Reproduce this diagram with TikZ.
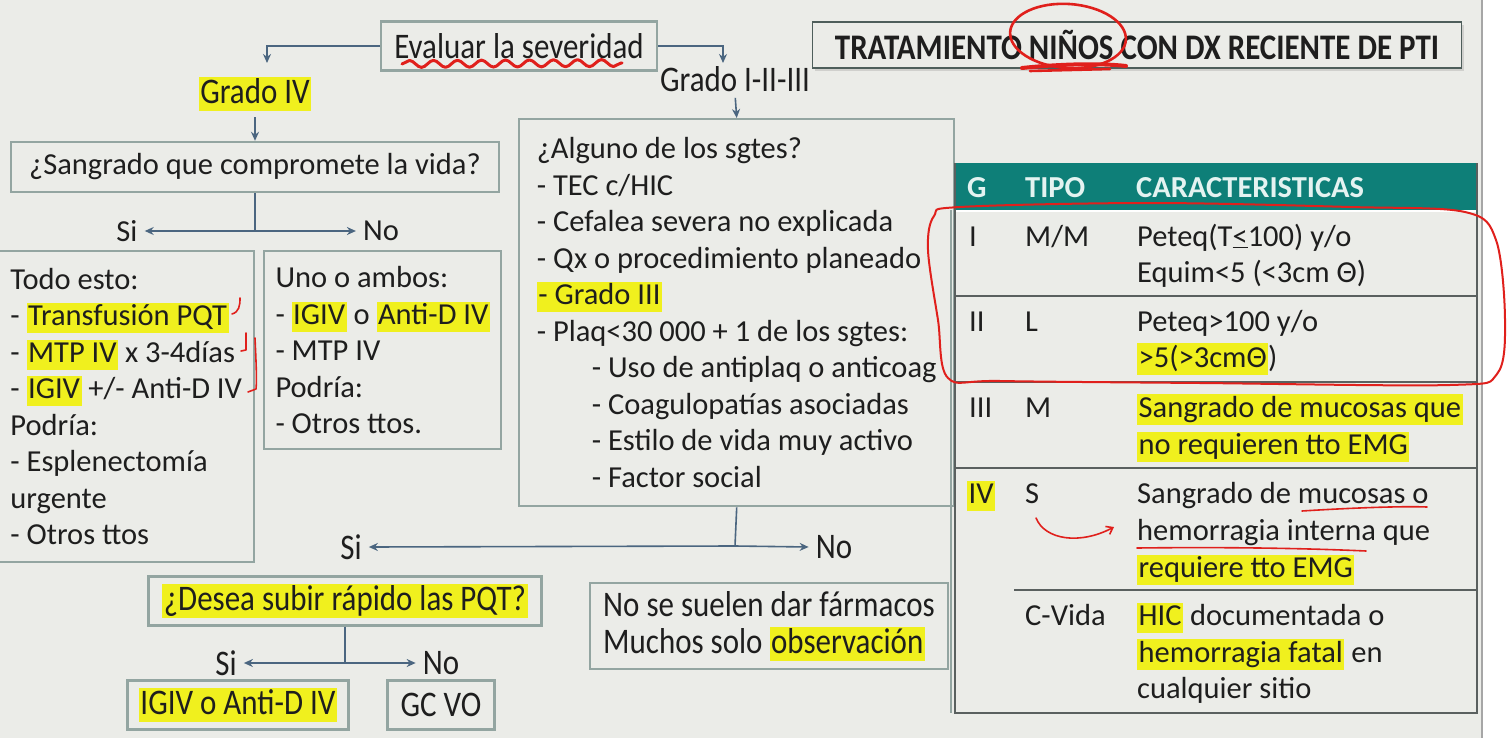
\documentclass[tikz,border=0pt]{standalone}
\usepackage{fontspec}
\setmainfont{Carlito}
\newfontfamily\condf[FakeStretch=0.86]{Carlito}
\usetikzlibrary{arrows.meta,decorations.pathmorphing,shadows}
\definecolor{bg}{HTML}{EBECE8}
\definecolor{boxc}{HTML}{93A5A1}
\definecolor{tboxc}{HTML}{4E5E5B}
\definecolor{arrc}{HTML}{4B6680}
\definecolor{txt}{HTML}{1E1E1E}
\definecolor{hly}{HTML}{F0F01E}
\definecolor{tealh}{HTML}{0E7F78}
\definecolor{thc}{HTML}{E4F3F1}
\definecolor{tline}{HTML}{5A605F}
\definecolor{redm}{HTML}{E0201C}
\newcommand\hl[1]{{\setlength{\fboxsep}{1.5pt}\colorbox{hly}{\vrule height 21pt depth 6pt width 0pt #1}}}
\newcommand\bodyfont{\fontsize{30.5}{36.5}\selectfont}
\newcommand\condfont{\condf\fontsize{36}{36.5}\selectfont}
\tikzset{
  box/.style={draw=boxc, line width=2.4pt, text=txt, inner sep=0pt},
  tbox/.style={draw=tboxc, line width=1.8pt, text=txt, inner sep=0pt, fill=bg,
    drop shadow={shadow xshift=2pt, shadow yshift=-3pt, opacity=0.25}},
  conn/.style={draw=arrc, line width=1.6pt, -{Stealth[length=9pt,width=8pt]}},
  link/.style={draw=arrc, line width=1.6pt},
  lbl/.style={text=txt, font=\bodyfont, inner xsep=7pt, inner ysep=2pt},
  clbl/.style={text=txt, font=\condfont, inner xsep=7pt, inner ysep=2pt},
  tt/.style={text=txt, font=\bodyfont, anchor=base west, inner sep=0pt},
  th/.style={text=thc, font=\bodyfont\bfseries, anchor=base west, inner sep=0pt},
  tl/.style={draw=tline, line width=2pt},
  redmark/.style={draw=redm, line width=2.2pt, line cap=round, line join=round}
}
\begin{document}
\begin{tikzpicture}[x=1pt,y=-1pt]
\useasboundingbox (0,0) rectangle (1509,738);
\fill[white] (0,0) rectangle (1509,738);
\fill[bg] (0,0) rectangle (1482,738);
\draw[draw=gray!70, line width=1.5pt] (1482,0) -- (1482,738);

% --- top of the flowchart
\node[box, minimum width=276, minimum height=49, font=\condfont] (eval) at (519,46) {Evaluar la severidad};
\node[clbl] (g4) at (255,94) {\hl{Grado IV}};
\node[clbl] (g13) at (735,79) {Grado I-II-III};
\coordinate (g4in) at (267,63);
\coordinate (g13in) at (723,63);
\draw[conn] (eval.west) -| (g4in);
\draw[conn] (eval.east) -| (g13in);

% --- Grado IV branch
\node[box, minimum width=488, minimum height=50, font=\bodyfont] (sang) at (255,167) {¿Sangrado que compromete la vida?};
\draw[conn, shorten <=4pt] (g4.south) -- (sang.north);
\coordinate (sj) at (255,231);
\draw[link] (sang.south) -- (sj);
\node[lbl] (si1) at (127,231) {Si};
\node[lbl] (no1) at (381,231) {No};
\draw[conn] (sj) -- (si1.east);
\draw[conn] (sj) -- (no1.west);

\node[box, anchor=north west, minimum width=256, minimum height=311, align=left, font=\bodyfont] (todo) at (-3,250)
 {Todo esto:\\- \hl{Transfusión PQT}\\- \hl{MTP IV} x 3-4días\\- \hl{IGIV} +/- Anti-D IV\\Podría:\\- Esplenectomía\\urgente\\- Otros ttos};
\node[box, anchor=north west, minimum width=237, minimum height=198, align=left, font=\bodyfont] (uno) at (263,250)
 {Uno o ambos:\\- \hl{IGIV} o \hl{Anti-D IV}\\- MTP IV\\Podría:\\- Otros ttos.};

% --- Grado I-II-III branch
\node[box, anchor=north west, minimum width=435, minimum height=387, align=left, font=\bodyfont] (alg) at (518,118)
 {¿Alguno de los sgtes?\\- TEC c/HIC\\- Cefalea severa no explicada\\- Qx o procedimiento planeado\\\hl{- Grado III}\\- Plaq<30 000 + 1 de los sgtes:\\
 \hspace*{55pt}- Uso de antiplaq o anticoag\\\hspace*{55pt}- Coagulopatías asociadas\\\hspace*{55pt}- Estilo de vida muy activo\\\hspace*{55pt}- Factor social};
\draw[conn, shorten <=4pt] (g13.south) -- (alg.north);
\coordinate (aj) at (735,546);
\draw[link] (alg.south) -- (aj);
\node[clbl] (si2) at (351,547) {Si};
\node[clbl] (no2) at (834,547) {No};
\draw[conn] (aj) -- (si2.east);
\draw[conn] (aj) -- (no2.west);

\node[box, minimum width=393, minimum height=49, font=\condfont] (desea) at (345,601) {\hl{¿Desea subir rápido las PQT?}};
\coordinate (dj) at (345,663);
\draw[link] (desea.south) -- (dj);
\node[clbl] (si3) at (226,663) {Si};
\node[clbl] (no3) at (441,663) {No};
\draw[conn] (dj) -- (si3.east);
\draw[conn] (dj) -- (no3.west);
\node[box, minimum width=221, minimum height=49, font=\condfont] (igiv) at (238,705) {\hl{IGIV o Anti-D IV}};
\node[box, minimum width=107, minimum height=49, font=\condfont] (gcvo) at (441,705) {GC VO};
\node[box, minimum width=358, minimum height=86, align=left, font=\condfont] (nose) at (769,626)
 {No se suelen dar fármacos\\Muchos solo \hl{observación}};

% --- title
\node[tbox, minimum width=649, minimum height=46, font=\condfont\bfseries] (title) at (1137,45) {TRATAMIENTO NIÑOS CON DX RECIENTE DE PTI};

% --- table
\fill[tealh] (955,163) rectangle (1477,210);
\draw[white, line width=1.2pt] (955,211) -- (1477,211);
\draw[tl] (955,163) -- (955,713) -- (1477,713) -- (1477,163);
\draw[tl] (955,296) -- (1477,296);
\draw[tl] (955,382) -- (1477,382);
\draw[tl] (955,468) -- (1477,468);
\draw[tl] (1014,590) -- (1477,590);
\draw[draw=boxc, line width=1.5pt] (951,210) -- (951,713);
\node[th] (hg) at (967,197) {G};
\node[th] (ht) at (1025,197) {TIPO};
\node[th] (hc) at (1136,197) {CARACTERISTICAS};

\node[tt] (r1g) at (969,246) {I};
\node[tt] (r1t) at (1025,246) {M/M};
\node[tt] (r1a) at (1137,246) {Peteq(T\underline{<}100) y/o};
\node[tt] (r1b) at (1137,282) {Equim<5 (<3cm Θ)};

\node[tt] (r2g) at (969,331) {II};
\node[tt] (r2t) at (1025,331) {L};
\node[tt] (r2a) at (1137,331) {Peteq>100 y/o};
\node[tt] (r2b) at (1137,367) {\hl{>5(>3cmΘ})};

\node[tt] (r3g) at (969,417) {III};
\node[tt] (r3t) at (1025,417) {M};
\node[tt] (r3a) at (1137,417) {\hl{Sangrado de mucosas que}};
\node[tt] (r3b) at (1137,454) {\hl{no requieren tto EMG}};

\node[tt] (r4g) at (967,503) {\hl{IV}};
\node[tt] (r4t) at (1025,503) {S};
\node[tt] (r4a) at (1137,503) {Sangrado de mucosas o};
\node[tt] (r4b) at (1137,540) {hemorragia interna que};
\node[tt] (r4c) at (1137,577) {\hl{requiere tto EMG}};

\node[tt] (r5t) at (1025,625) {C-Vida};
\node[tt] (r5a) at (1137,625) {\hl{HIC} documentada o};
\node[tt] (r5b) at (1137,662) {\hl{hemorragia fatal} en};
\node[tt] (r5c) at (1137,698) {cualquier sitio};

% --- red hand-drawn marks
\draw[redmark, line width=3pt, decorate, decoration={snake, amplitude=3.5pt, segment length=24pt}] (402,64) -- (622,63);
\draw[redmark, line width=2.6pt, rotate around={-4:(1068,36)}] (1068,36) ellipse (58pt and 32pt);
\draw[redmark, line width=4pt] (1022,68) .. controls (1060,64) and (1100,63) .. (1126,66);
\draw[redmark, line width=2.6pt] (1030,71) -- (1110,69);
\draw[redmark, line width=2pt] plot[smooth cycle, tension=0.55] coordinates
 {(960,207) (1150,203) (1350,207) (1465,212) (1496,240) (1505,320) (1497,374) (1450,385) (1200,383) (1000,381) (948,378) (938,320) (928,250) (934,216)};
\draw[redmark, line width=1.6pt] (240,298) .. controls (240,306) and (239,312) .. (232,314);
\draw[redmark, line width=1.6pt] (246,333) -- (246,350) -- (241,351);
\draw[redmark, line width=1.6pt] (255,338) .. controls (256,360) and (257,380) .. (256,389) -- (248,392);
\draw[redmark, line width=1.6pt] (1302,511) .. controls (1350,508) and (1400,506) .. (1427,507);
\draw[redmark, line width=1.6pt] (1137,548) .. controls (1220,547) and (1300,548) .. (1366,551);
\draw[redmark, line width=1.6pt, -{Straight Barb[length=6pt,width=9pt]}] (1036,518) .. controls (1045,540) and (1080,545) .. (1114,527);
\end{tikzpicture}
\end{document}
